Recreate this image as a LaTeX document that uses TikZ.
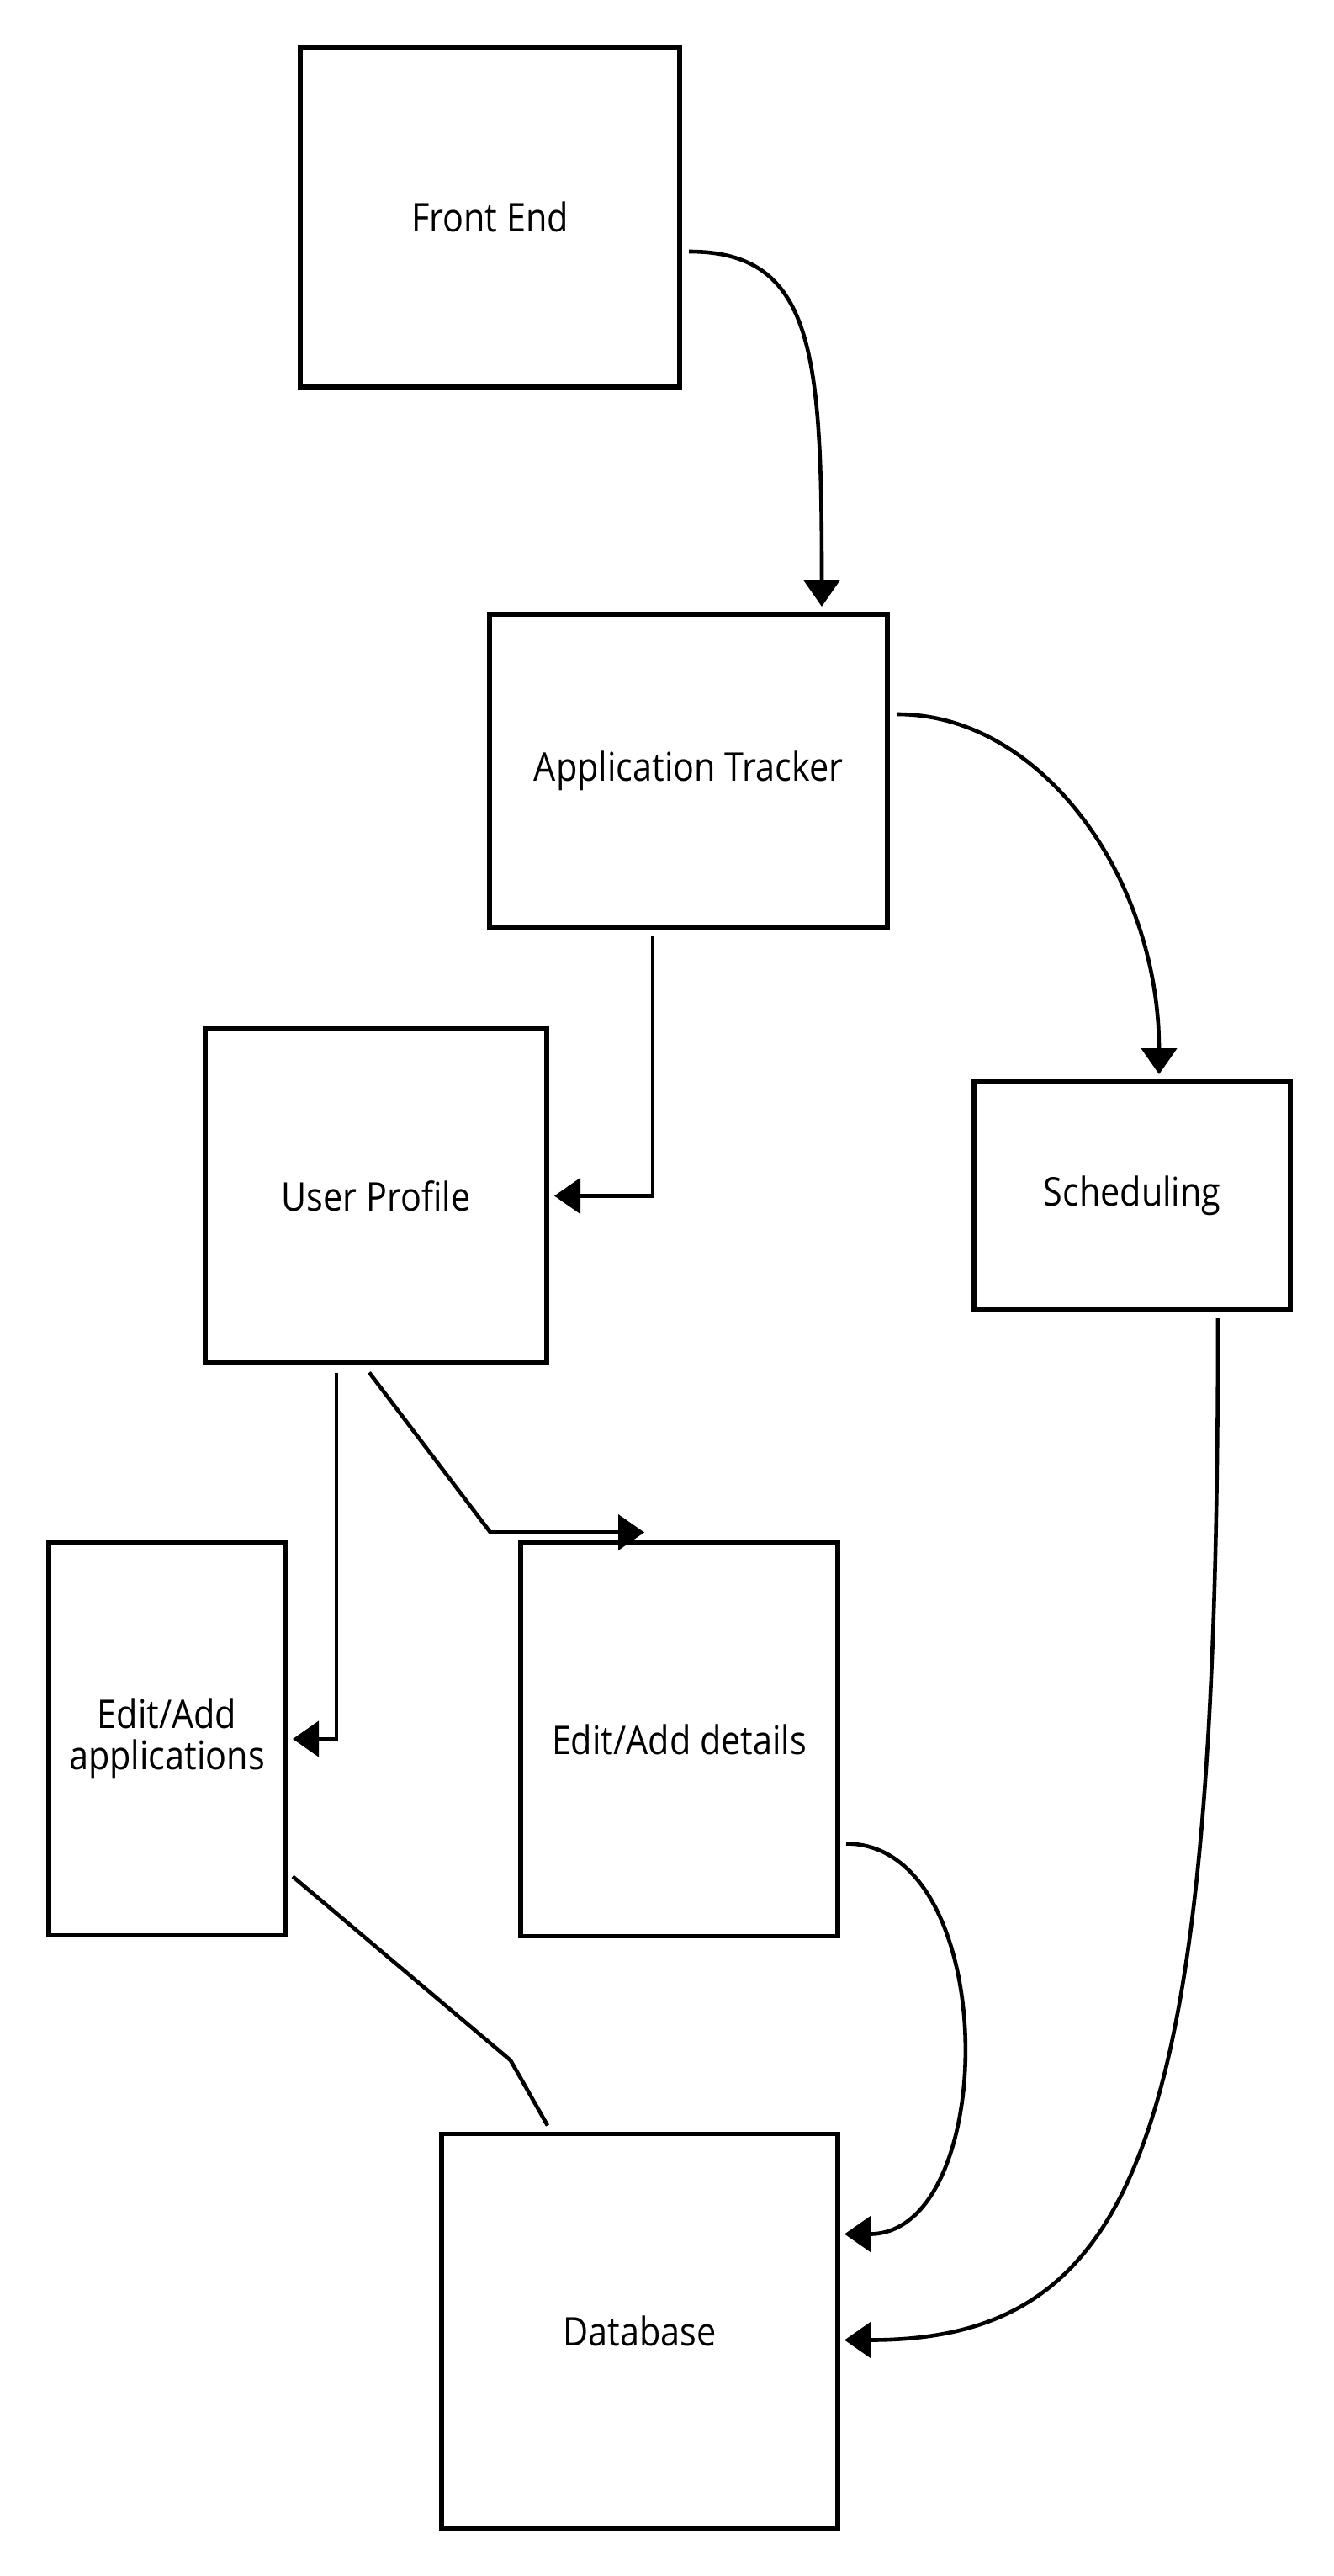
\documentclass[tikz,border=0pt]{standalone}
\usepackage{fontspec}
\setmainfont[FakeStretch=0.88]{Open Sans}
\usepackage{tikz}
\usetikzlibrary{arrows.meta,positioning}
\tikzstyle{block} = [rectangle, draw=black, line width=2.8pt, fill=white, text=black, text centered, align=center, font=\fontsize{23.5pt}{24.5pt}\selectfont, outer sep=0pt]
\tikzstyle{tedge} = [draw, line width=2.3pt, >={Triangle[length=15.5pt,width=21pt]}, ->]
\tikzstyle{tline} = [draw, line width=2.3pt]

\begin{document}
\begin{tikzpicture}[auto]
\useasboundingbox (0,0) rectangle (792.5pt,-1531pt);

% boxes =============================

% top
\node[block, minimum width=225.5pt, minimum height=202pt, anchor=north west] (fe) at (178.5pt,-28pt) {Front End};
\node[block, minimum width=236.5pt, minimum height=186pt, below right=135pt and 112.5pt of fe.south west] (at) {Application Tracker};

% middle
\node[block, minimum width=203pt, minimum height=198.5pt, below left=60.5pt and 84.25pt of at.south] (up) {User Profile};
\node[block, minimum width=188pt, minimum height=135pt, below right=92pt and 51.5pt of at.south east] (sch) {Scheduling};

% edit
\node[block, minimum width=140.5pt, minimum height=233.5pt, below left=106.75pt and 54pt of up.south] (ea) {Edit/Add\\applications};
\node[block, minimum width=188.5pt, minimum height=234pt, below right=106.75pt and 86pt of up.south] (ed) {Edit/Add details};

% storage
\node[block, minimum width=235.5pt, minimum height=234.5pt, below left=117.5pt and 0pt of ed.south east] (db) {Database};

%edges
\path[tedge] ([xshift=5.5pt,yshift=-20.5pt]fe.east) to[out=0,in=90,out looseness=0.85,in looseness=1.7] ([xshift=79.25pt,yshift=4.5pt]at.north);
\path[tedge] ([xshift=6pt,yshift=33.5pt]at.east) to[out=0,in=90,out looseness=0.83,in looseness=1.12] ([xshift=16pt,yshift=4.5pt]sch.north);
\path[tedge] ([xshift=-21.25pt,yshift=-5.5pt]at.south) |- ([xshift=4.5pt]up.east);

\path[tedge] ([xshift=-23.5pt,yshift=-5.75pt]up.south) |- ([xshift=4.5pt]ea.east);
\path[tedge] ([xshift=-4pt,yshift=-5.75pt]up.south) -- ++(72pt,-95pt) -- ([xshift=73.5pt,yshift=6pt]ed.north west);

\path[tline] ([xshift=4.5pt,yshift=35pt]ea.south east) -- ++(129.5pt,-109.25pt) -- ([xshift=63pt,yshift=5pt]db.north west);
\path[tedge] ([xshift=5pt,yshift=55pt]ed.south east) to[out=0,in=0,looseness=1.02] ([xshift=4pt,yshift=-59.5pt]db.north east);
\path[tedge] ([xshift=51pt,yshift=-5.5pt]sch.south) to[out=-90,in=0,out looseness=1.9,in looseness=0.71] ([xshift=4pt,yshift=-5.25pt]db.east);

\end{tikzpicture}
\end{document}
